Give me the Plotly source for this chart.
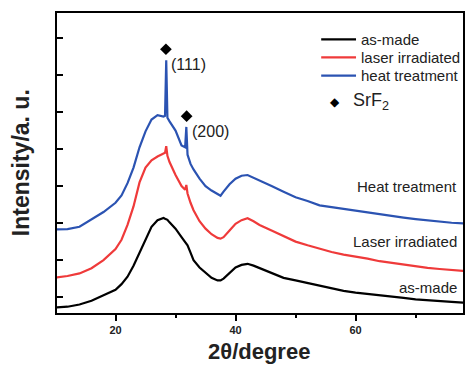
import plotly.graph_objects as go

# ---- data ----
two_theta = [10, 12, 14, 16, 18, 20, 21, 22, 23, 24, 25, 26, 27, 28, 28.25, 28.45, 28.65,
             29, 30, 31, 31.6, 31.8, 32.0, 32.5, 33, 34, 35, 36, 37, 37.5, 38, 39, 40, 41, 42, 43,
             44, 46, 48, 50, 52, 54, 56, 58, 60, 62, 64, 66, 68, 70, 72, 74, 76, 78]

as_made = [-0.28, -0.26, -0.2, -0.1, 0.05, 0.2, 0.35, 0.55, 0.85, 1.2, 1.58, 1.9, 2.08, 2.14, 2.12, 2.11, 2.09,
           2.02, 1.85, 1.62, 1.5, 1.45, 1.4, 1.2, 1.0, 0.8, 0.65, 0.52, 0.45, 0.45, 0.5, 0.66, 0.8, 0.87, 0.9, 0.85,
           0.78, 0.64, 0.52, 0.45, 0.38, 0.3, 0.22, 0.17, 0.12, 0.09, 0.05, 0.02, -0.02, -0.06, -0.09, -0.11, -0.13, -0.15]

laser = [0.53, 0.57, 0.64, 0.78, 1.0, 1.3, 1.55, 1.95, 2.45, 3.1, 3.5, 3.7, 3.8, 3.88, 3.9, 4.08, 3.82,
         3.65, 3.3, 3.0, 2.9, 3.03, 2.8, 2.55, 2.35, 2.05, 1.85, 1.7, 1.6, 1.58, 1.62, 1.8, 1.98, 2.08, 2.13, 2.05,
         1.95, 1.8, 1.64, 1.5, 1.4, 1.3, 1.22, 1.15, 1.1, 1.04, 0.97, 0.92, 0.87, 0.82, 0.79, 0.76, 0.73, 0.71]

heat = [1.83, 1.84, 1.9, 2.1, 2.3, 2.55, 2.75, 3.08, 3.5, 4.05, 4.48, 4.8, 4.92, 4.88, 4.9, 6.4, 4.85,
        4.75, 4.5, 4.1, 4.05, 4.6, 3.85, 3.6, 3.45, 3.2, 3.0, 2.88, 2.78, 2.74, 2.85, 3.05, 3.2, 3.28, 3.3, 3.23,
        3.15, 3.0, 2.85, 2.7, 2.6, 2.48, 2.43, 2.38, 2.33, 2.28, 2.24, 2.2, 2.15, 2.11, 2.07, 2.04, 2.01, 1.99]

peak_x = [28.4, 31.85]
peak_y = [6.7, 4.89]
peak_labels = ["(111)", "(200)"]

series_names = ["as-made", "laser irradiated", "heat treatment"]
curve_labels = ["as-made", "Laser irradiated", "Heat treatment"]
colors = ["#000000", "#ef3a3a", "#2b53b2"]

x_ticks = [20, 40, 60]
x_minor = [30, 50, 70]
y_ticks = [0, 1, 2, 3, 4, 5, 6, 7]

# ---- layout geometry ----
W, H = 467, 365
L, R, T, B = 57, 465, 13, 313


def px(x):
    return (x - L) / (R - L)


def py(y):
    return (B - y) / (B - T)


fig = go.Figure()
for ys, c in zip([as_made, laser, heat], colors):
    fig.add_trace(go.Scatter(x=two_theta, y=ys, mode="lines",
                             line=dict(color=c, width=2.2), showlegend=False))

fig.add_trace(go.Scatter(x=peak_x, y=peak_y, mode="markers",
                         marker=dict(symbol="diamond", size=9, color="black"), showlegend=False))

annotations = []
for xv, yv, lab in zip(peak_x, peak_y, peak_labels):
    annotations.append(dict(x=xv, y=yv, xref="x", yref="y", text=lab, showarrow=False,
                            xanchor="left", yanchor="middle", xshift=3, yshift=-15,
                            font=dict(size=16, color="#222")))

# curve labels on the right
label_y = [287, 241, 186]
for lab, yv in zip(curve_labels, label_y):
    annotations.append(dict(x=px(461), y=py(yv), xref="paper", yref="paper", text=lab,
                            showarrow=False, xanchor="right", yanchor="middle",
                            font=dict(size=15, color="#222")))

# manual legend
shapes = []
leg_y = [39.3, 57.3, 75.7]
for name, c, yv in zip(series_names, colors, leg_y):
    shapes.append(dict(type="line", xref="paper", yref="paper",
                       x0=px(322.5), x1=px(357.5), y0=py(yv), y1=py(yv),
                       line=dict(color=c, width=2.2)))
    annotations.append(dict(x=px(360), y=py(yv), xref="paper", yref="paper", text=name,
                            showarrow=False, xanchor="left", yanchor="middle",
                            font=dict(size=15, color="#222")))
annotations.append(dict(x=px(336.7), y=py(101.7), xref="paper", yref="paper", text="\u25C6",
                        showarrow=False, xanchor="center", yanchor="middle",
                        font=dict(size=12, color="black")))
annotations.append(dict(x=px(352), y=py(101), xref="paper", yref="paper",
                        text="SrF<sub>2</sub>", showarrow=False, xanchor="left", yanchor="middle",
                        font=dict(size=18, color="#222")))

# axis titles
annotations.append(dict(x=px(260), y=py(352), xref="paper", yref="paper",
                        text="<b>2\u03b8/degree</b>", showarrow=False,
                        xanchor="center", yanchor="middle",
                        font=dict(size=22, color="#222")))
annotations.append(dict(x=px(21), y=py(163), xref="paper", yref="paper",
                        text="<b>Intensity/a. u.</b>", showarrow=False, textangle=-90,
                        xanchor="center", yanchor="middle",
                        font=dict(size=23, color="#222")))

fig.update_layout(
    width=W, height=H,
    margin=dict(l=L, r=W - R, t=T, b=H - B, pad=0),
    paper_bgcolor="white", plot_bgcolor="white",
    font=dict(family="Liberation Sans, Arial, sans-serif", color="#222"),
    annotations=annotations, shapes=shapes,
    showlegend=False,
)
fig.update_xaxes(range=[10.25, 77.9], tickvals=x_ticks, ticktext=[str(v) for v in x_ticks],
                 ticks="outside", ticklen=6, tickwidth=2, tickcolor="black",
                 minor=dict(tickvals=x_minor, ticks="outside", ticklen=3, tickwidth=2, tickcolor="black"),
                 showline=True, linewidth=2, linecolor="black", mirror=True,
                 showgrid=False, zeroline=False,
                 tickfont=dict(size=11, family="Liberation Sans, Arial, sans-serif", color="#222",
                               weight="bold"))
fig.update_yaxes(range=[-0.43, 7.68], tickvals=y_ticks, showticklabels=False,
                 ticks="inside", ticklen=6, tickwidth=2, tickcolor="black",
                 showline=True, linewidth=2, linecolor="black", mirror=True,
                 showgrid=False, zeroline=False)

fig.write_html("out.html", config={"displayModeBar": False},
               post_script="document.body.style.margin='0';document.body.style.overflow='hidden';")
